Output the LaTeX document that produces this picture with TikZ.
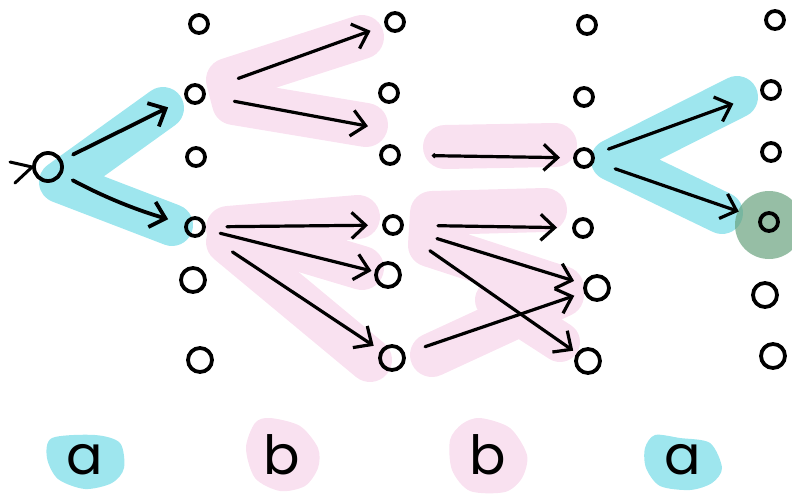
\documentclass[tikz,border=0pt]{standalone}
\usepackage{fontspec}
\setmainfont{Poppins}
\usetikzlibrary{arrows.meta,calc}
\definecolor{hlcyan}{RGB}{158,230,238}
\definecolor{hlpink}{RGB}{249,225,240}
\definecolor{hlgreen}{RGB}{105,163,127}
\begin{document}
\begin{tikzpicture}[x=1pt,y=-1pt,
  state/.style={circle,draw=black,line width=3.8pt,minimum size=18pt,inner sep=0pt},
  bigstate/.style={state,minimum size=24pt},
  arr/.style={line width=3.2pt,-{Straight Barb[length=14pt,width=26pt]},line cap=round,line join=round},
  hlc/.style={draw=hlcyan,line width=42pt,line cap=round,line join=round},
  hlp/.style={draw=hlpink,line width=44pt,line cap=round,line join=round},
  blobc/.style={fill=hlcyan},
  blobp/.style={fill=hlpink},
  lbl/.style={font=\fontsize{54}{54}\selectfont,anchor=base,inner sep=0pt}
]
\useasboundingbox (0,0) rectangle (792,493);

% highlight bands
\draw[hlc] (163,108) -- (60,182) -- (172,225);
\draw[hlc] (737,97) -- (612,160) -- (722,213);
\draw[hlp] (362,37) -- (228,80) -- (234,103) -- (366,125);
\draw[hlp] (358,217) -- (228,228) -- (362,268);
\draw[hlp] (228,242) -- (370,360);
\draw[hlp] (445,147) -- (555,145);
\draw[hlp] (545,210) -- (432,213) -- (430,245) -- (562,288);
\draw[hlp] (432,355) -- (562,295);
\draw[hlp,line width=40pt] (495,300) -- (560,342);
\fill[hlgreen,opacity=0.7] (769,225) circle[radius=34pt];

% label blobs
\fill[blobc] plot[smooth cycle] coordinates {(52,438) (95,435) (120,443) (124,468) (112,483) (85,489) (58,479) (47,458)};
\fill[blobp] plot[smooth cycle] coordinates {(270,418) (300,426) (318,448) (318,468) (305,486) (280,491) (255,478) (246,448) (255,423)};
\fill[blobp] plot[smooth cycle] coordinates {(480,418) (510,428) (527,455) (522,478) (505,492) (470,491) (452,470) (450,440) (462,424)};
\fill[blobc] plot[smooth cycle] coordinates {(655,435) (680,438) (710,443) (722,468) (712,483) (690,490) (660,486) (646,468) (645,448)};

% states
\node[state,minimum size=28pt] (s) at (48,167) {};
\draw[line width=3pt,line cap=round,line join=round] (10,162) -- (s.west) -- (15,183);

\node[state] (c1r1) at (199,24) {};
\node[state] (c1r2) at (195,94) {};
\node[state] (c1r3) at (196,157) {};
\node[state] (c1r4) at (195,227) {};
\node[bigstate] (c1r5) at (193,280) {};
\node[bigstate] (c1r6) at (200,360) {};

\node[state] (c2r1) at (395,22) {};
\node[state] (c2r2) at (389,93) {};
\node[state] (c2r3) at (390,155) {};
\node[state] (c2r4) at (393,225) {};
\node[bigstate] (c2r5) at (388,275) {};
\node[bigstate] (c2r6) at (392,358) {};

\node[state] (c3r1) at (587,25) {};
\node[state] (c3r2) at (584,97) {};
\node[state] (c3r3) at (584,158) {};
\node[state] (c3r4) at (583,228) {};
\node[bigstate] (c3r5) at (597,288) {};
\node[bigstate] (c3r6) at (588,361) {};

\node[state] (c4r1) at (775,20) {};
\node[state] (c4r2) at (771,90) {};
\node[state] (c4r3) at (771,152) {};
\node[state] (c4r4) at (769,222) {};
\node[bigstate] (c4r5) at (765,295) {};
\node[bigstate] (c4r6) at (773,356) {};

% arrows
\draw[arr,line width=3.8pt,shorten <=28pt,shorten >=30pt] (s.center) -- (c1r2.center);
\draw[arr,line width=3.8pt,shorten <=28pt,shorten >=28pt] (s.center) to[bend right=6] (c1r4.center);
\draw[arr,shorten <=46pt,shorten >=26pt] (c1r2.center) -- (c2r1.center);
\draw[arr,shorten <=40pt,shorten >=22pt] (c1r2.center) -- ($(c2r2.center)!0.6!(c2r3.center)$);
\draw[arr,shorten <=32pt,shorten >=25pt] (c1r4.center) -- (c2r4.center);
\draw[arr,shorten <=26pt,shorten >=17pt] (c1r4.center) -- (c2r5.center);
\draw[arr,shorten <=45pt,shorten >=22pt] (c1r4.center) -- (c2r6.center);
\draw[arr,{Circle[length=4.5pt]}-{Straight Barb[length=14pt,width=26pt]},shorten <=42pt,shorten >=24pt] (c2r3.center) -- (c3r3.center);
\draw[arr,shorten <=45pt,shorten >=26pt] (c2r4.center) -- (c3r4.center);
\draw[arr,shorten <=46pt,shorten >=24pt] (c2r4.center) -- (c3r5.center);
\draw[arr,shorten <=45pt,shorten >=18pt] (c2r4.center) -- (c3r6.center);
\draw[arr,shorten <=35pt,shorten >=24pt] (c2r6.center) -- (c3r5.center);
\draw[arr,shorten <=26pt,shorten >=40pt] (c3r3.center) -- (c4r2.center);
\draw[arr,shorten <=33pt,shorten >=32pt] (c3r3.center) -- (c4r4.center);

% labels
\node[lbl] (la1) at (85,474) {a};
\node[lbl] (lb1) at (282,474) {b};
\node[lbl] (lb2) at (488,474) {b};
\node[lbl] (la2) at (683,474) {a};
\end{tikzpicture}
\end{document}
